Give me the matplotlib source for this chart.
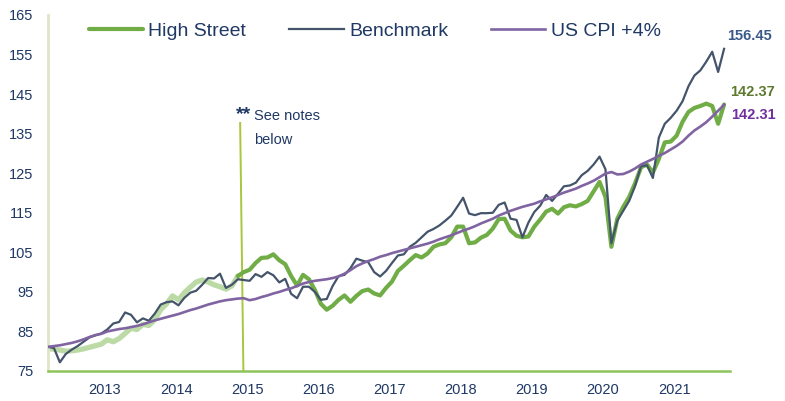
import numpy as np
import pandas as pd
import matplotlib
matplotlib.use("Agg")
import matplotlib.pyplot as plt

plt.rcParams['font.family'] = ['Liberation Sans', 'DejaVu Sans']

# monthly data, Apr 2012 .. Oct 2021
months = pd.date_range("2012-04-01", periods=115, freq="MS")

high_street = [
    80.7, 80.5, 80.3, 80.0, 80.1, 80.3, 80.6, 81.0, 81.4, 81.8,
    82.9, 82.4, 83.2, 84.5, 85.8, 85.5, 86.8, 86.5, 88.0, 90.5,
    92.0, 94.0, 93.0, 94.8, 96.2, 97.5, 98.0, 97.5, 96.8, 96.3,
    95.7, 96.5, 99.0, 100.0, 100.6, 102.3, 103.6, 103.7, 104.5, 103.0,
    102.0, 99.0, 96.6, 99.3, 98.2, 95.5, 92.0, 90.5, 91.5, 93.0,
    94.1, 92.5, 94.0, 95.2, 95.6, 94.6, 94.1, 96.0, 97.6, 100.3,
    101.6, 103.0, 104.3, 103.7, 104.7, 106.4, 107.0, 107.3, 108.8, 111.5,
    111.5, 107.3, 107.5, 108.7, 109.4, 111.0, 113.4, 113.5, 110.5, 109.2,
    108.8, 109.0, 111.5, 113.3, 115.3, 116.0, 114.8, 116.4, 116.9, 116.6,
    117.2, 118.0, 120.4, 122.8, 119.0, 106.4, 113.5, 116.5, 119.0, 122.5,
    126.5, 127.2, 125.2, 128.6, 132.8, 133.0, 134.5, 138.0, 140.5, 141.5,
    142.0, 142.6, 142.0, 137.5, 142.37,
]

benchmark = [
    81.1, 80.8, 77.2, 79.3, 80.4, 81.3, 82.4, 83.5, 84.0, 84.5,
    85.5, 87.0, 87.4, 89.8, 89.2, 87.3, 88.3, 87.7, 89.5, 91.8,
    92.4, 92.6, 91.6, 93.5, 94.8, 95.3, 96.8, 98.5, 98.4, 99.6,
    96.0, 96.8, 98.2, 98.0, 97.8, 99.5, 98.8, 100.0, 99.2, 97.4,
    98.3, 94.5, 93.4, 96.3, 96.3, 95.0, 93.0, 93.2, 96.5, 99.0,
    99.3, 101.0, 103.4, 102.9, 102.5, 100.0, 98.9, 100.3, 102.3, 104.2,
    104.5, 106.4, 107.4, 108.8, 110.2, 110.9, 111.8, 113.0, 114.3, 116.5,
    118.8, 114.8, 114.4, 114.9, 114.9, 115.0, 117.0, 117.6, 113.5, 113.2,
    108.8, 112.5, 115.2, 116.8, 119.5, 118.0, 119.8, 121.7, 121.9, 122.6,
    124.5, 125.6, 127.2, 129.2, 126.0, 107.3, 113.0, 115.5, 118.0, 121.8,
    126.8, 127.0, 123.8, 134.0, 137.5, 139.0, 140.8, 143.2, 147.0, 149.7,
    151.0, 153.2, 155.7, 150.6, 156.45,
]

cpi_plus4 = [
    81.1, 81.3, 81.5, 81.8, 82.1, 82.5, 83.0, 83.6, 84.1, 84.4,
    85.0, 85.3, 85.6, 85.8, 86.1, 86.4, 86.8, 87.3, 87.8, 88.2,
    88.6, 89.0, 89.4, 89.9, 90.4, 90.8, 91.3, 91.8, 92.2, 92.6,
    92.9, 93.1, 93.3, 93.4, 92.9, 93.2, 93.7, 94.1, 94.6, 95.0,
    95.5, 95.9, 96.5, 97.1, 97.5, 97.8, 98.0, 98.2, 98.5, 98.9,
    99.6, 100.5, 101.5, 102.2, 102.8, 103.3, 103.9, 104.3, 104.8, 105.2,
    105.6, 106.0, 106.4, 106.8, 107.2, 107.7, 108.3, 108.8, 109.3, 109.9,
    110.5, 111.0, 111.6, 112.3, 112.9, 113.5, 114.3, 114.9, 115.5, 116.0,
    116.5, 116.9, 117.3, 117.9, 118.4, 118.9, 119.5, 120.1, 120.6, 121.1,
    121.8, 122.4, 123.1, 124.0, 124.9, 125.3, 124.7, 124.8, 125.4, 126.2,
    127.2, 127.9, 128.6, 129.4, 130.1, 131.0, 131.9, 133.0, 134.5, 135.8,
    136.8, 137.9, 139.3, 140.8, 142.31,
]

years = list(range(2013, 2022))
split_month = "2015-01-01"   # High Street drawn pale before this month

navy = '#1f3864'
green = '#70ad47'
pale_green = '#bcdaa6'
slate = '#44546a'
purple = '#8064a2'

x = np.arange(len(months))
split = int(np.where(months == pd.Timestamp(split_month))[0][0])

fig = plt.figure(figsize=(7.85, 4.01), dpi=100)
ax = fig.add_axes([48 / 785, 30 / 401, 682 / 785, 356 / 401])

ax.plot(x[:split], high_street[:split], color=pale_green, lw=3.8,
        solid_capstyle='round', zorder=2)
ax.plot(x[split - 1:], high_street[split - 1:], color=green, lw=3.0,
        solid_capstyle='round', zorder=2, label='High Street')
ax.plot(x, benchmark, color=slate, lw=1.6, zorder=3, label='Benchmark')
ax.plot(x, cpi_plus4, color=purple, lw=1.9, zorder=4, label='US CPI +4%')

# notes marker
ax.plot([split - 0.6, split - 0.05], [137.7, 75], color='#a9c63c', lw=1.4, zorder=1)
ax.text(split + 1.3, 139.8, '**', color=navy, fontsize=14, fontweight='bold',
        ha='right', va='center')
ax.text(split + 1.8, 139.5, 'See notes', color=navy, fontsize=10.5,
        ha='left', va='center')
ax.text(split + 1.8, 133.5, 'below', color=navy, fontsize=10.5,
        ha='left', va='center')

# end labels
ax.text(x[-1] + 0.5, benchmark[-1] + 3.2, f'{benchmark[-1]:.2f}', color='#3a5a8a',
        fontsize=10.5, fontweight='bold', ha='left', va='center', clip_on=False)
ax.text(x[-1] + 1.0, high_street[-1] + 3.2, f'{high_street[-1]:.2f}', color='#5d7a2f',
        fontsize=10.5, fontweight='bold', ha='left', va='center', clip_on=False)
ax.text(x[-1] + 1.2, cpi_plus4[-1] - 2.6, f'{cpi_plus4[-1]:.2f}', color='#7030a0',
        fontsize=10.5, fontweight='bold', ha='left', va='center', clip_on=False)

ax.set_xlim(0, 115)
ax.set_ylim(75, 165)
ax.set_yticks(range(75, 166, 10))
jan_idx = [int(np.where(months == pd.Timestamp(f'{y}-01-01'))[0][0]) for y in years]
ax.set_xticks([j + 0.6 for j in jan_idx])
ax.set_xticklabels([str(y) for y in years])
ax.tick_params(axis='both', length=0, colors=navy, labelsize=10.5)
ax.tick_params(axis='y', pad=10.5)
ax.tick_params(axis='x', pad=9)

for s in ['top', 'right']:
    ax.spines[s].set_visible(False)
ax.spines['left'].set_color('#dde7c6')
ax.spines['left'].set_linewidth(2)
ax.spines['bottom'].set_color('#8fc45a')
ax.spines['bottom'].set_linewidth(1.8)

leg = ax.legend(loc='center', bbox_to_anchor=(0.479, 0.955), ncol=3, frameon=False,
                fontsize=14, handlelength=2.8, handletextpad=0.28,
                columnspacing=2.2)
for t in leg.get_texts():
    t.set_color(navy)

fig.savefig('out.png', dpi=100)
